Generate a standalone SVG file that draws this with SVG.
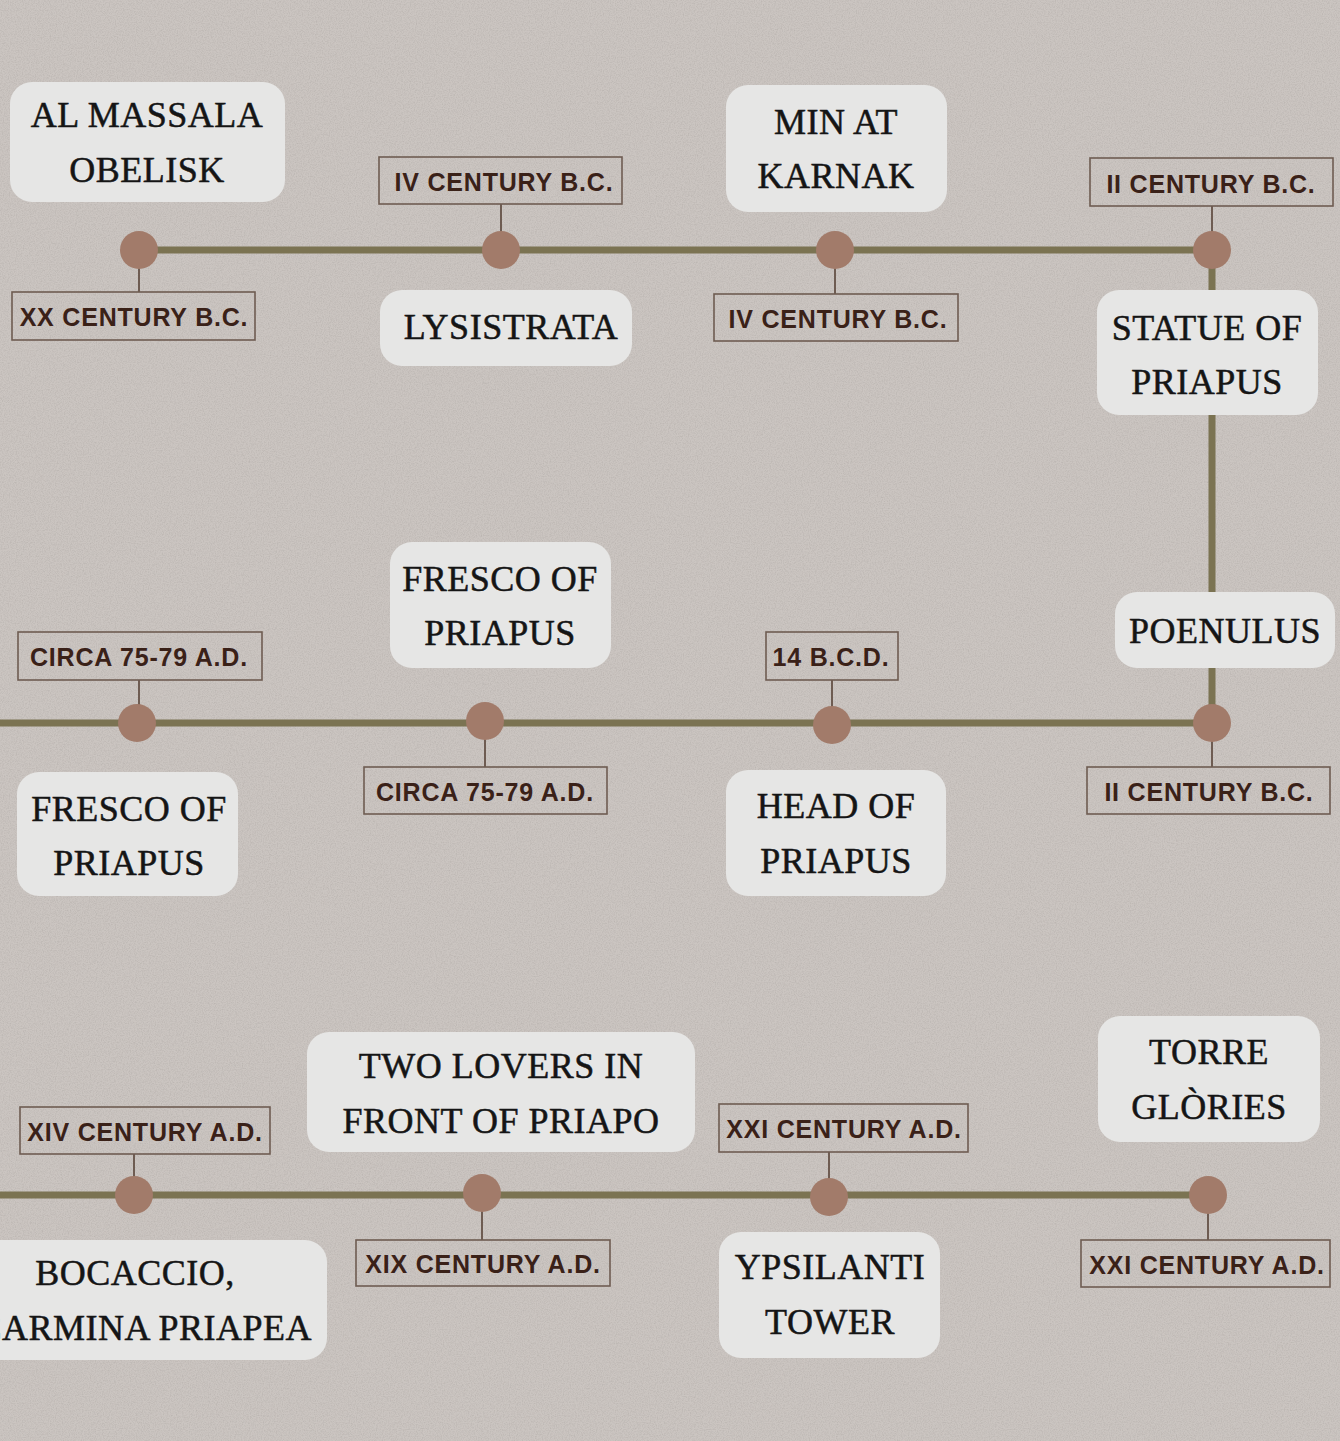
<svg xmlns="http://www.w3.org/2000/svg" width="1340" height="1441" viewBox="0 0 1340 1441">
<defs>
<filter id="noise" x="0" y="0" width="100%" height="100%">
<feTurbulence type="fractalNoise" baseFrequency="0.85" numOctaves="3" seed="4" result="t"/>
<feColorMatrix type="matrix" values="0 0 0 0 0.42  0 0 0 0 0.39  0 0 0 0 0.37  0 0 0 1.6 -0.6"/>
</filter>
<style>
.tl{stroke:#7b7352;stroke-width:7;fill:none}
.tick{stroke:#6e5c52;stroke-width:2;fill:none}
.dot{fill:#a27b6a}
.tbox{fill:#e6e6e5}
.dbox{fill:none;stroke:#6e5c52;stroke-width:1.6}
.tt{font-family:"Liberation Serif","Times New Roman",serif;font-size:36px;fill:#151515;stroke:#151515;stroke-width:0.5;text-anchor:middle;letter-spacing:0.5px}
.dt{font-family:"Liberation Sans",Arial,sans-serif;font-weight:700;font-size:25px;fill:#3a2118;text-anchor:middle;letter-spacing:0.8px}
</style>
</defs>
<rect width="1340" height="1441" fill="#cbc5c1"/>
<rect width="1340" height="1441" filter="url(#noise)" opacity="0.6"/>

<g id="connectors">
<line class="tl" x1="139" y1="250" x2="1212" y2="250"/>
<line class="tl" x1="1212" y1="250" x2="1212" y2="723"/>
<line class="tl" x1="0" y1="723" x2="1212" y2="723"/>
<line class="tl" x1="0" y1="1195" x2="1208" y2="1195"/>
<line class="tick" x1="139" y1="250" x2="139" y2="292"/>
<line class="tick" x1="501" y1="204" x2="501" y2="250"/>
<line class="tick" x1="835" y1="250" x2="835" y2="294"/>
<line class="tick" x1="1212" y1="206" x2="1212" y2="250"/>
<line class="tick" x1="139" y1="680" x2="139" y2="723"/>
<line class="tick" x1="485" y1="723" x2="485" y2="767"/>
<line class="tick" x1="832" y1="680" x2="832" y2="723"/>
<line class="tick" x1="1212" y1="723" x2="1212" y2="767"/>
<line class="tick" x1="134" y1="1154" x2="134" y2="1195"/>
<line class="tick" x1="482" y1="1195" x2="482" y2="1240"/>
<line class="tick" x1="829" y1="1152" x2="829" y2="1195"/>
<line class="tick" x1="1208" y1="1195" x2="1208" y2="1240"/>
<circle class="dot" cx="139" cy="250" r="19"/>
<circle class="dot" cx="501" cy="250" r="19"/>
<circle class="dot" cx="835" cy="250" r="19"/>
<circle class="dot" cx="1212" cy="250" r="19"/>
<circle class="dot" cx="137" cy="723" r="19"/>
<circle class="dot" cx="485" cy="721" r="19"/>
<circle class="dot" cx="832" cy="725" r="19"/>
<circle class="dot" cx="1212" cy="723" r="19"/>
<circle class="dot" cx="134" cy="1195" r="19"/>
<circle class="dot" cx="482" cy="1193" r="19"/>
<circle class="dot" cx="829" cy="1197" r="19"/>
<circle class="dot" cx="1208" cy="1195" r="19"/>
</g>

<g id="al-massala">
<rect class="tbox" x="10" y="82" width="275" height="120" rx="22"/>
<text class="tt" x="147" y="127">AL MASSALA</text>
<text class="tt" x="147" y="182">OBELISK</text>
</g>
<g id="date-xx-bc">
<rect class="dbox" x="12" y="292" width="243" height="48"/>
<text class="dt" x="134" y="326">XX CENTURY B.C.</text>
</g>
<g id="date-iv-bc-1">
<rect class="dbox" x="379" y="157" width="243" height="47"/>
<text class="dt" x="504" y="191">IV CENTURY B.C.</text>
</g>
<g id="lysistrata">
<rect class="tbox" x="380" y="290" width="252" height="76" rx="22"/>
<text class="tt" x="511" y="339">LYSISTRATA</text>
</g>
<g id="min-karnak">
<rect class="tbox" x="726" y="85" width="221" height="127" rx="22"/>
<text class="tt" x="836" y="134">MIN AT</text>
<text class="tt" x="836" y="188">KARNAK</text>
</g>
<g id="date-iv-bc-2">
<rect class="dbox" x="714" y="294" width="244" height="47"/>
<text class="dt" x="838" y="328">IV CENTURY B.C.</text>
</g>
<g id="date-ii-bc-1">
<rect class="dbox" x="1090" y="158" width="243" height="48"/>
<text class="dt" x="1211" y="193">II CENTURY B.C.</text>
</g>
<g id="statue-priapus">
<rect class="tbox" x="1097" y="290" width="221" height="125" rx="22"/>
<text class="tt" x="1207" y="340">STATUE OF</text>
<text class="tt" x="1207" y="394">PRIAPUS</text>
</g>

<g id="date-circa-1">
<rect class="dbox" x="18" y="632" width="244" height="48"/>
<text class="dt" x="139" y="666">CIRCA 75-79 A.D.</text>
</g>
<g id="fresco-priapus-1">
<rect class="tbox" x="17" y="772" width="221" height="124" rx="22"/>
<text class="tt" x="129" y="821">FRESCO OF</text>
<text class="tt" x="129" y="875">PRIAPUS</text>
</g>
<g id="fresco-priapus-2">
<rect class="tbox" x="390" y="542" width="221" height="126" rx="22"/>
<text class="tt" x="500" y="591">FRESCO OF</text>
<text class="tt" x="500" y="645">PRIAPUS</text>
</g>
<g id="date-circa-2">
<rect class="dbox" x="364" y="767" width="243" height="47"/>
<text class="dt" x="485" y="801">CIRCA 75-79 A.D.</text>
</g>
<g id="date-14bcd">
<rect class="dbox" x="766" y="632" width="132" height="48"/>
<text class="dt" x="831" y="666">14 B.C.D.</text>
</g>
<g id="head-priapus">
<rect class="tbox" x="726" y="770" width="220" height="126" rx="22"/>
<text class="tt" x="836" y="818">HEAD OF</text>
<text class="tt" x="836" y="873">PRIAPUS</text>
</g>
<g id="poenulus">
<rect class="tbox" x="1115" y="592" width="220" height="76" rx="22"/>
<text class="tt" x="1225" y="643">POENULUS</text>
</g>
<g id="date-ii-bc-2">
<rect class="dbox" x="1087" y="767" width="243" height="47"/>
<text class="dt" x="1209" y="801">II CENTURY B.C.</text>
</g>

<g id="date-xiv-ad">
<rect class="dbox" x="20" y="1107" width="250" height="47"/>
<text class="dt" x="145" y="1141">XIV CENTURY A.D.</text>
</g>
<g id="bocaccio">
<rect class="tbox" x="-20" y="1240" width="347" height="120" rx="22"/>
<text class="tt" x="135" y="1285">BOCACCIO,</text>
<text class="tt" x="312" y="1340" style="text-anchor:end">CARMINA PRIAPEA</text>
</g>
<g id="two-lovers">
<rect class="tbox" x="307" y="1032" width="388" height="120" rx="22"/>
<text class="tt" x="501" y="1078">TWO LOVERS IN</text>
<text class="tt" x="501" y="1133">FRONT OF PRIAPO</text>
</g>
<g id="date-xix-ad">
<rect class="dbox" x="356" y="1240" width="254" height="46"/>
<text class="dt" x="483" y="1273">XIX CENTURY A.D.</text>
</g>
<g id="date-xxi-ad-1">
<rect class="dbox" x="719" y="1104" width="249" height="48"/>
<text class="dt" x="844" y="1138">XXI CENTURY A.D.</text>
</g>
<g id="ypsilanti">
<rect class="tbox" x="719" y="1232" width="221" height="126" rx="22"/>
<text class="tt" x="830" y="1279">YPSILANTI</text>
<text class="tt" x="830" y="1334">TOWER</text>
</g>
<g id="torre-glories">
<rect class="tbox" x="1098" y="1016" width="222" height="126" rx="22"/>
<text class="tt" x="1209" y="1064">TORRE</text>
<text class="tt" x="1209" y="1119">GLÒRIES</text>
</g>
<g id="date-xxi-ad-2">
<rect class="dbox" x="1081" y="1240" width="249" height="47"/>
<text class="dt" x="1207" y="1274">XXI CENTURY A.D.</text>
</g>
</svg>
